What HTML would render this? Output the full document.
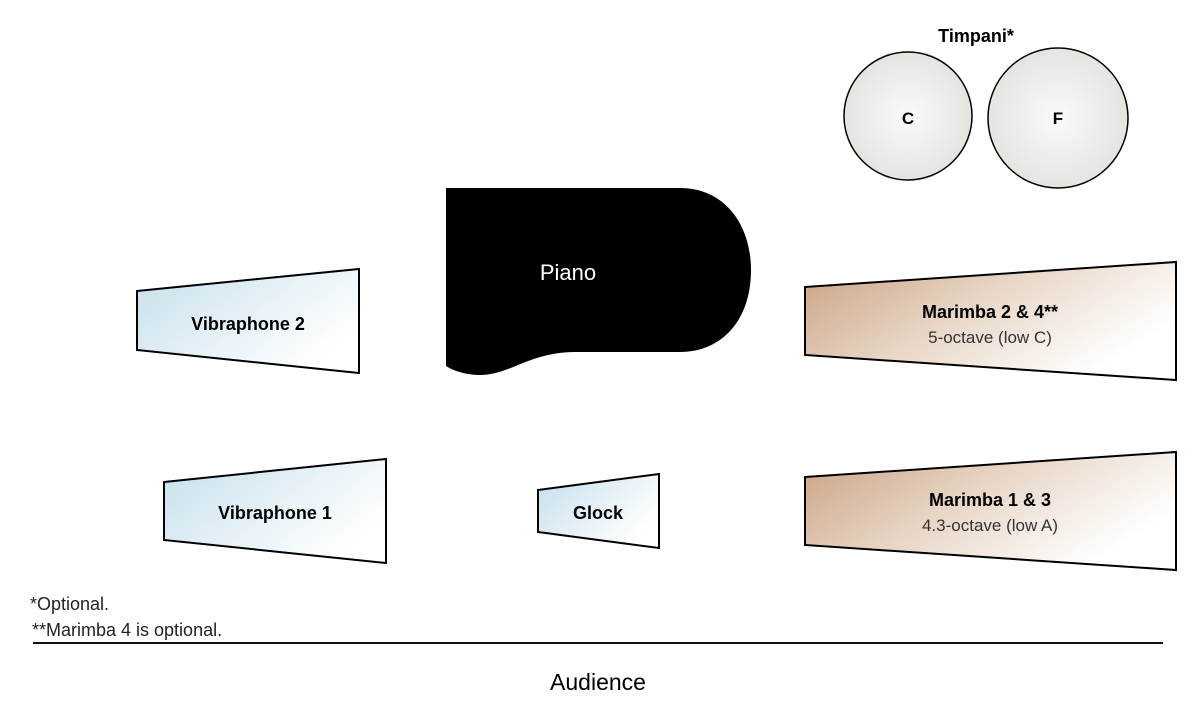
<!DOCTYPE html>
<html><head><meta charset="utf-8"><style>
html,body{margin:0;padding:0;background:#fff;}
svg{display:block;font-family:"Liberation Sans",sans-serif;}
</style></head><body>
<svg width="1200" height="728" viewBox="0 0 1200 728" xmlns="http://www.w3.org/2000/svg">
<defs>
<linearGradient id="blue" x1="0" y1="0" x2="1" y2="0.6">
<stop offset="0" stop-color="#c6dfec"/><stop offset="1" stop-color="#ffffff"/></linearGradient>
<linearGradient id="tan" x1="0" y1="0" x2="1" y2="0.5">
<stop offset="0" stop-color="#c9a181"/><stop offset="0.5" stop-color="#e8d6c6"/><stop offset="1" stop-color="#ffffff"/></linearGradient>
<radialGradient id="drum" cx="0.5" cy="0.5" r="0.5">
<stop offset="0" stop-color="#fafaf8"/><stop offset="1" stop-color="#e4e4e0"/></radialGradient>
</defs>
<text x="976" y="42" font-size="18" font-weight="bold" text-anchor="middle">Timpani*</text>
<circle cx="908" cy="116" r="64" fill="url(#drum)" stroke="#000" stroke-width="1.5"/>
<circle cx="1058" cy="118" r="70" fill="url(#drum)" stroke="#000" stroke-width="1.5"/>
<text x="908" y="124" font-size="17" font-weight="bold" text-anchor="middle">C</text>
<text x="1058" y="124" font-size="17" font-weight="bold" text-anchor="middle">F</text>
<path d="M446 188 L680 188 C725 188 751 225 751 270 C751 320 722 352 680 352 L575 352 C530 352 510 375 480 375 C465 375 452 370 446 366 Z" fill="#000"/>
<text x="568" y="280" font-size="22" fill="#fff" text-anchor="middle">Piano</text>
<polygon points="137,291 359,269 359,373 137,350" fill="url(#blue)" stroke="#000" stroke-width="2"/>
<text x="248" y="330" font-size="18" font-weight="bold" text-anchor="middle">Vibraphone 2</text>
<polygon points="164,482 386,459 386,563 164,540" fill="url(#blue)" stroke="#000" stroke-width="2"/>
<text x="275" y="519" font-size="18" font-weight="bold" text-anchor="middle">Vibraphone 1</text>
<polygon points="538,490 659,474 659,548 538,532" fill="url(#blue)" stroke="#000" stroke-width="2"/>
<text x="598" y="519" font-size="18" font-weight="bold" text-anchor="middle">Glock</text>
<polygon points="805,287 1176,262 1176,380 805,355" fill="url(#tan)" stroke="#000" stroke-width="2"/>
<text x="990" y="318" font-size="18" font-weight="bold" text-anchor="middle">Marimba 2 &amp; 4**</text>
<text x="990" y="343" font-size="17" fill="#333" text-anchor="middle">5-octave (low C)</text>
<polygon points="805,477 1176,452 1176,570 805,545" fill="url(#tan)" stroke="#000" stroke-width="2"/>
<text x="990" y="506" font-size="18" font-weight="bold" text-anchor="middle">Marimba 1 &amp; 3</text>
<text x="990" y="531" font-size="17" fill="#333" text-anchor="middle">4.3-octave (low A)</text>
<text x="30" y="610" font-size="18" fill="#222">*Optional.</text>
<text x="32" y="636" font-size="18" fill="#222">**Marimba 4 is optional.</text>
<line x1="33" y1="643" x2="1163" y2="643" stroke="#111" stroke-width="2"/>
<text x="598" y="690" font-size="23" text-anchor="middle">Audience</text>
</svg>
</body></html>
